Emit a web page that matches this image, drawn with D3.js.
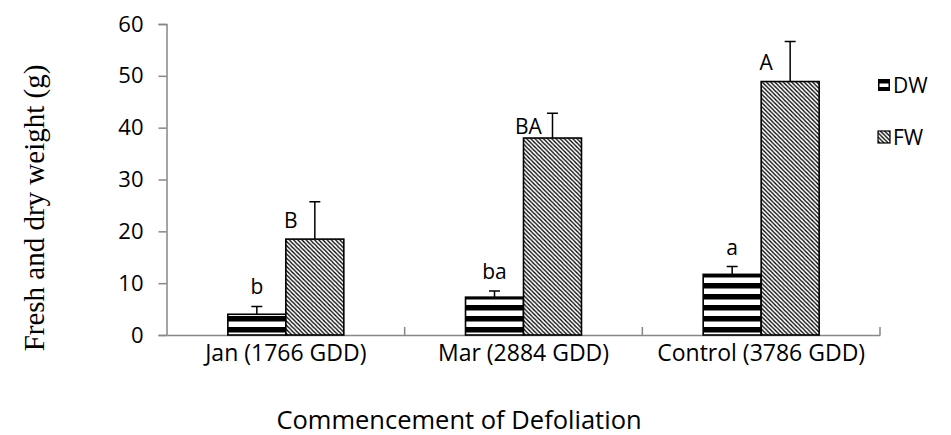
<!DOCTYPE html>
<html>
<head>
<meta charset="utf-8">
<script src="https://cdn.jsdelivr.net/npm/d3@7"></script>
<style>
  html, body { margin: 0; padding: 0; background: #fff; }
  svg { display: block; }
</style>
</head>
<body>
<svg id="chart" width="951" height="435"></svg>
<script>
// ---- data ----
const categories = ["Jan (1766 GDD)", "Mar (2884 GDD)", "Control (3786 GDD)"];
const seriesNames = ["DW", "FW"];
const dwValues = [4.0, 7.3, 11.7];
const dwErrors = [1.5, 1.2, 1.5];
const fwValues = [18.5, 38.0, 48.9];
const fwErrors = [7.2, 4.8, 7.7];
const dwLetters = ["b", "ba", "a"];
const fwLetters = ["B", "BA", "A"];
const yTicks = [0, 10, 20, 30, 40, 50, 60];
const yTitle = "Fresh and dry weight (g)";
const xTitle = "Commencement of Defoliation";

const svg = d3.select("#chart");
const font = "'Open Sans', sans-serif";

// patterns
const defs = svg.append("defs");
const pStripe = defs.append("pattern").attr("id", "stripes")
  .attr("patternUnits", "userSpaceOnUse").attr("width", 10).attr("height", 11)
  .attr("y", 335);
pStripe.append("rect").attr("width", 10).attr("height", 11).attr("fill", "#fff");
pStripe.append("rect").attr("y", 3).attr("width", 10).attr("height", 5.5).attr("fill", "#000");

const pHatch = defs.append("pattern").attr("id", "hatch")
  .attr("patternUnits", "userSpaceOnUse").attr("width", 4.2).attr("height", 4.2);
pHatch.append("rect").attr("width", 4.2).attr("height", 4.2).attr("fill", "#fff");
pHatch.append("path").attr("d", "M-1,-1 L5.2,5.2 M-1,3.2 L1,5.2 M3.2,-1 L5.2,1")
  .attr("stroke", "#000").attr("stroke-width", 1.3);

// scales
const x0 = d3.scaleBand().domain(categories).range([167, 880]).padding(0);
const bw = x0.bandwidth();
const barW = bw * 0.244;
const x1 = d3.scaleBand().domain(seriesNames).range([bw / 2 - barW, bw / 2 + barW]).padding(0);
const y = d3.scaleLinear().domain([0, 60]).range([335, 24]);

const axisColor = "#878787";

// y axis
const yAxis = svg.append("g").attr("transform", "translate(166.5,0)")
  .call(d3.axisLeft(y).tickValues(yTicks).tickSize(8).tickPadding(15));
yAxis.select(".domain").attr("stroke", axisColor).attr("stroke-width", 1.5);
yAxis.selectAll(".tick line").attr("stroke", axisColor).attr("stroke-width", 1.5);
yAxis.selectAll(".tick text").attr("font-family", font).attr("font-size", 22).attr("fill", "#000");

// x axis
const xAxis = svg.append("g").attr("transform", "translate(0,335)")
  .call(d3.axisBottom(x0).tickSize(0).tickPadding(26));
xAxis.select(".domain").attr("stroke", axisColor).attr("stroke-width", 1.5);
xAxis.selectAll(".tick text").attr("font-family", font).attr("font-size", 23).attr("fill", "#000")
  .attr("dy", 0);
// inward tick marks between categories
const bounds = categories.map(c => x0(c)).slice(1).concat([x0.range()[1]]);
xAxis.selectAll(".sep").data(bounds).enter().append("line")
  .attr("x1", d => d).attr("x2", d => d).attr("y1", 0).attr("y2", -8)
  .attr("stroke", axisColor).attr("stroke-width", 1.5);

// bars
const rows = categories.map((c, i) => ({
  cat: c,
  items: [
    { s: "DW", v: dwValues[i], e: dwErrors[i], fill: "url(#stripes)" },
    { s: "FW", v: fwValues[i], e: fwErrors[i], fill: "url(#hatch)" }
  ]
}));

const groups = svg.append("g").selectAll("g").data(rows).enter().append("g")
  .attr("transform", d => `translate(${x0(d.cat)},0)`);

groups.selectAll("rect").data(d => d.items).enter().append("rect")
  .attr("x", d => x1(d.s)).attr("width", x1.bandwidth())
  .attr("y", d => y(d.v)).attr("height", d => y(0) - y(d.v))
  .attr("fill", d => d.fill).attr("stroke", "#000").attr("stroke-width", 1.6);

// error bars (upper only)
const cap = 11;
groups.selectAll(".err").data(d => d.items).enter().append("path")
  .attr("d", d => {
    const cx = x1(d.s) + x1.bandwidth() / 2;
    return `M${cx},${y(d.v)} V${y(d.v + d.e)} M${cx - cap / 2},${y(d.v + d.e)} H${cx + cap / 2}`;
  })
  .attr("stroke", "#000").attr("stroke-width", 1.5).attr("fill", "none");

// significance letters
groups.append("text")
  .attr("x", (d) => x1("DW") + x1.bandwidth() / 2)
  .attr("y", (d, i) => y(dwValues[i] + dwErrors[i]) - 12)
  .attr("text-anchor", "middle").attr("font-family", font).attr("font-size", 21)
  .text((d, i) => dwLetters[i]);

groups.append("text")
  .attr("x", (d) => x1("FW") + 5)
  .attr("y", (d, i) => (y(fwValues[i]) + y(fwValues[i] + fwErrors[i])) / 2 + 8)
  .attr("text-anchor", "middle").attr("font-family", font).attr("font-size", 21)
  .text((d, i) => fwLetters[i]);

// legend
const legend = svg.append("g");
const legY = [85, 137];
seriesNames.forEach((s, i) => {
  const g = legend.append("g").attr("transform", `translate(878,${legY[i]})`);
  if (s === "DW") {
    g.append("rect").attr("x", 0).attr("y", -6).attr("width", 12).attr("height", 12)
      .attr("fill", "#000");
    g.append("rect").attr("x", 1.5).attr("y", -1.5).attr("width", 9).attr("height", 3.5)
      .attr("fill", "#fff");
  } else {
    g.append("rect").attr("x", 0).attr("y", -6).attr("width", 12).attr("height", 12)
      .attr("fill", "url(#hatch)").attr("stroke", "#000").attr("stroke-width", 1.2);
  }
  g.append("text").attr("x", 15).attr("y", 0).attr("dy", "0.36em")
    .attr("font-family", font).attr("font-size", 21).text(s);
});

// axis titles
svg.append("text")
  .attr("transform", `translate(44,208) rotate(-90)`)
  .attr("text-anchor", "middle").attr("font-family", "'Liberation Serif', 'Times New Roman', serif")
  .attr("font-size", 29).text(yTitle);

svg.append("text")
  .attr("x", 459).attr("y", 429)
  .attr("text-anchor", "middle").attr("font-family", font).attr("font-size", 25.5)
  .text(xTitle);
</script>
</body>
</html>
